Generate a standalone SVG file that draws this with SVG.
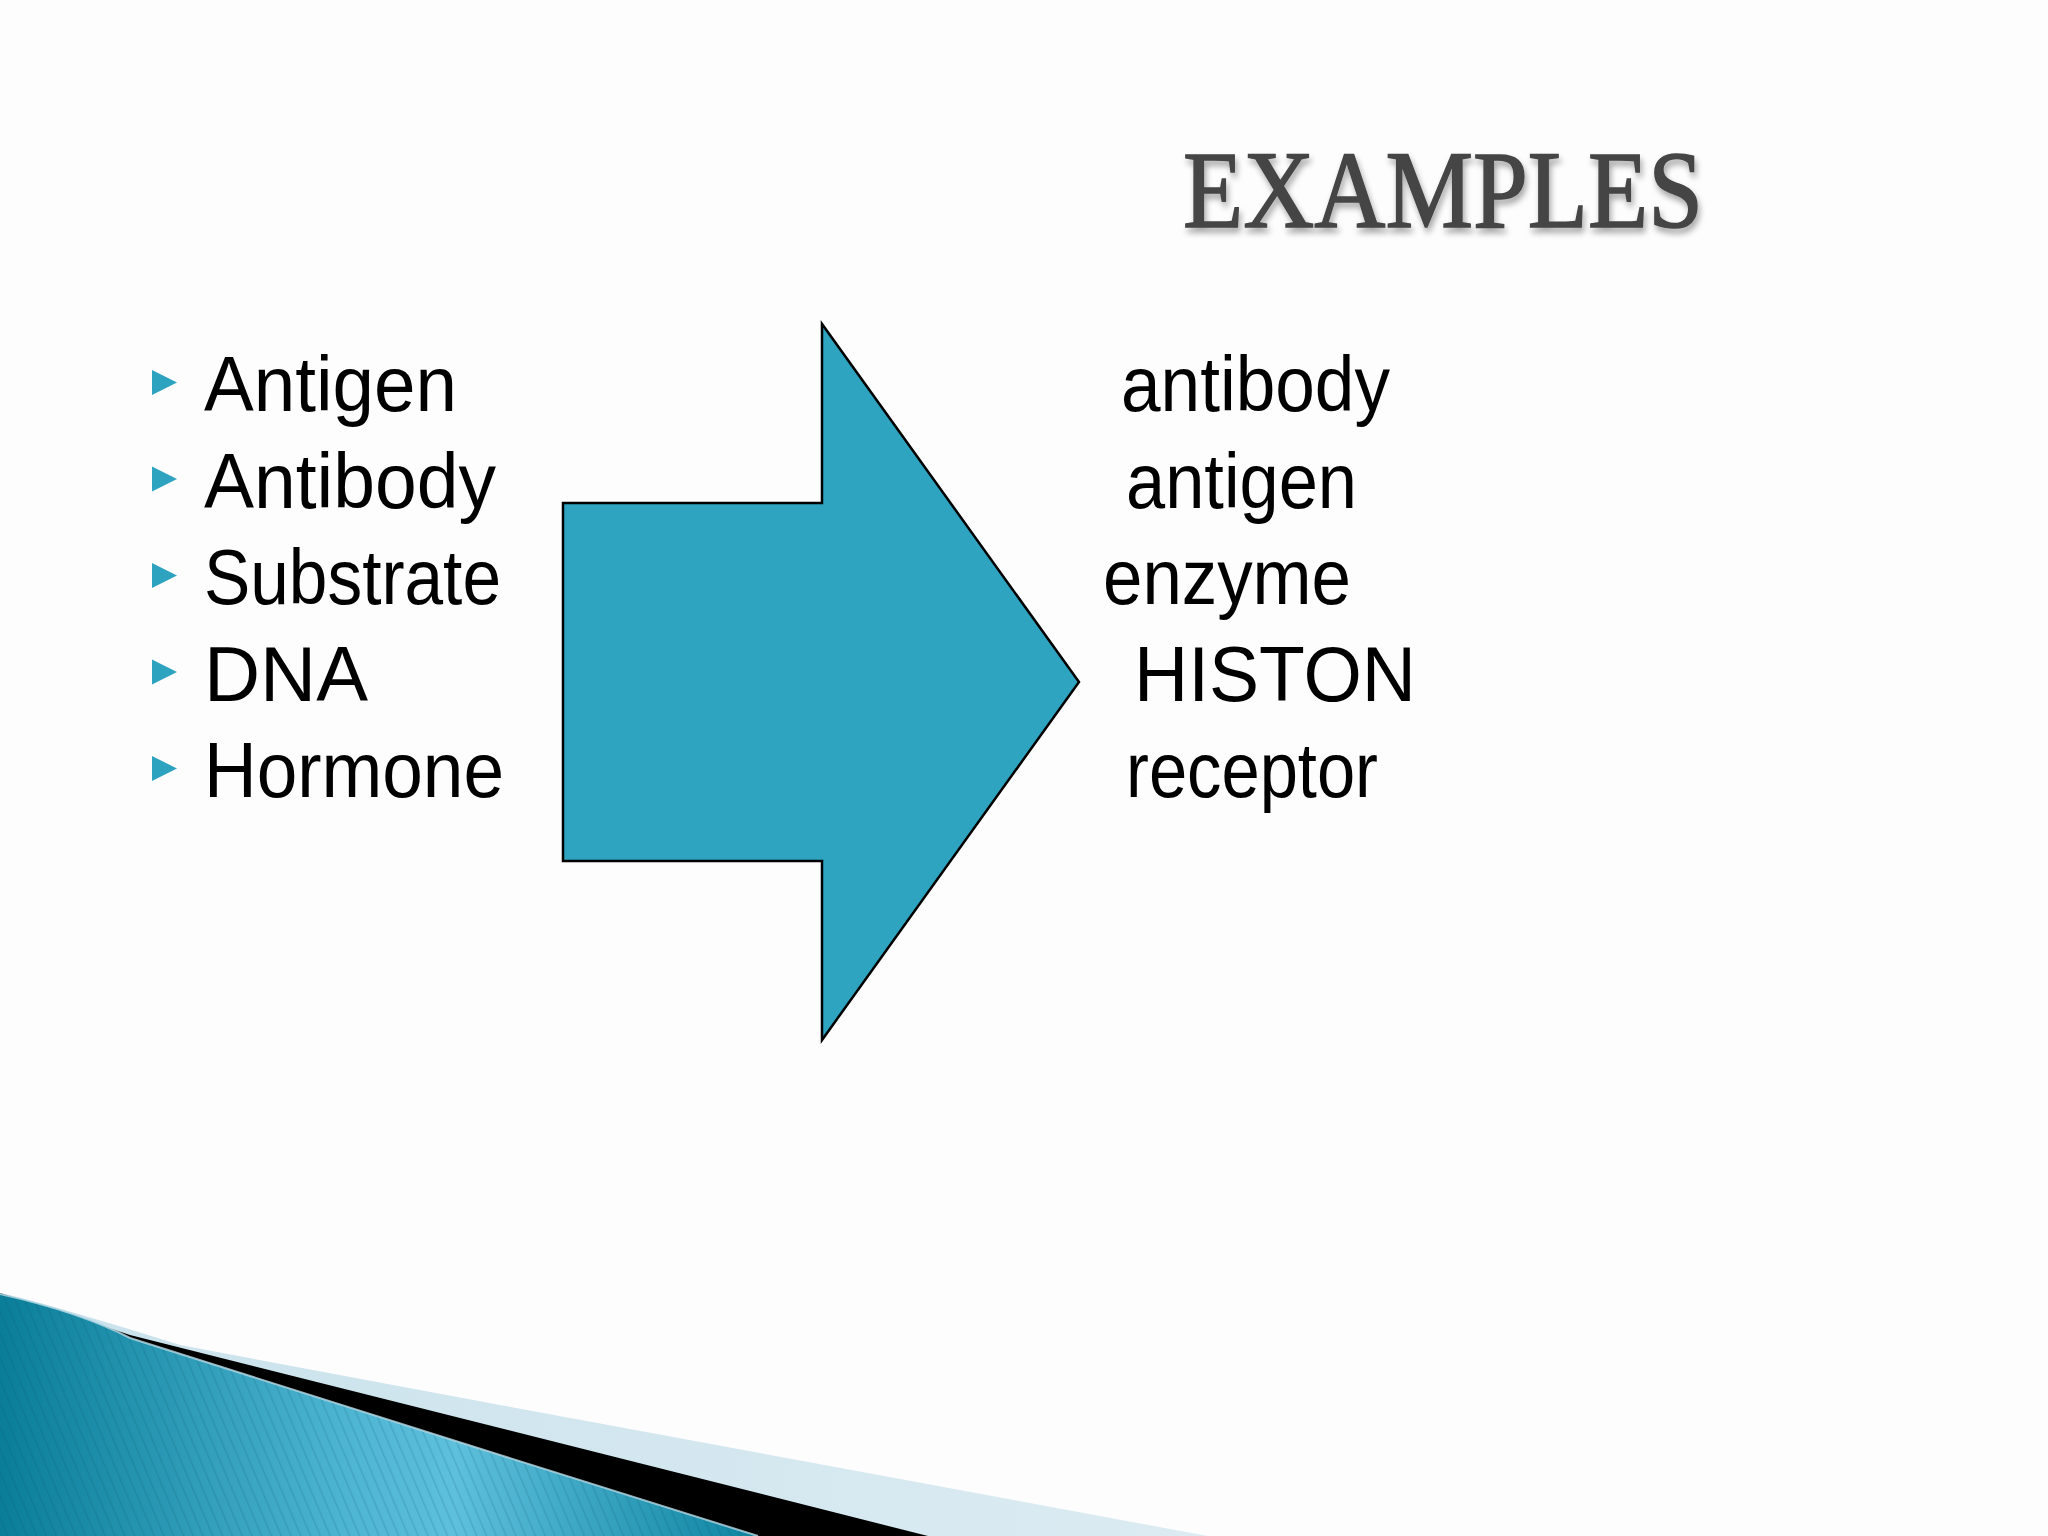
<svg xmlns="http://www.w3.org/2000/svg" width="2048" height="1536" viewBox="0 0 2048 1536">
  <style>
    .item { font-family: "Liberation Sans", Arial, sans-serif; font-size: 78px; fill: #000000; }
    .title { font-family: "Liberation Serif", "Times New Roman", serif; font-size: 110px; fill: #454545; stroke: #454545; stroke-width: 1.6px; }
    .bullet { fill: #2ea3bf; }
  </style>
  <defs>
    <filter id="shadow" x="-10%" y="-20%" width="120%" height="150%">
      <feGaussianBlur in="SourceAlpha" stdDeviation="3"/>
      <feOffset dx="2" dy="5" result="b"/>
      <feComponentTransfer><feFuncA type="linear" slope="0.35"/></feComponentTransfer>
      <feMerge><feMergeNode/><feMergeNode in="SourceGraphic"/></feMerge>
    </filter>
    <linearGradient id="teal" x1="0" y1="0" x2="1" y2="0" gradientUnits="objectBoundingBox">
      <stop offset="0" stop-color="#0a7e99"/>
      <stop offset="0.45" stop-color="#4cb4d1"/>
      <stop offset="0.6" stop-color="#5ec0dc"/>
      <stop offset="1" stop-color="#0d84a1"/>
    </linearGradient>
    <linearGradient id="lightband" x1="0" y1="0" x2="1" y2="0">
      <stop offset="0" stop-color="#c9e2ec"/>
      <stop offset="1" stop-color="#dcebf2"/>
    </linearGradient>
    <pattern id="stripes" width="9" height="40" patternUnits="userSpaceOnUse" patternTransform="rotate(-23)">
      <rect x="0" y="0" width="1.5" height="40" fill="#06566b" opacity="0.18"/>
    </pattern>
  </defs>

  <rect x="0" y="0" width="2048" height="1536" fill="#fdfdfd"/>

  <g id="title">
    <text class="title" x="1183" y="227" textLength="520" lengthAdjust="spacingAndGlyphs" filter="url(#shadow)">EXAMPLES</text>
  </g>

  <g id="left-list">
    <g id="item-antigen">
      <polygon class="bullet" points="152,370 177,382.5 152,395"/>
      <text class="item" x="204" y="411" textLength="253" lengthAdjust="spacingAndGlyphs">Antigen</text>
    </g>
    <g id="item-antibody">
      <polygon class="bullet" points="152,466.5 177,479 152,491.5"/>
      <text class="item" x="204" y="507.5" textLength="292" lengthAdjust="spacingAndGlyphs">Antibody</text>
    </g>
    <g id="item-substrate">
      <polygon class="bullet" points="152,563 177,575.5 152,588"/>
      <text class="item" x="204" y="604" textLength="297" lengthAdjust="spacingAndGlyphs">Substrate</text>
    </g>
    <g id="item-dna">
      <polygon class="bullet" points="152,659.5 177,672 152,684.5"/>
      <text class="item" x="204" y="700.5" textLength="164" lengthAdjust="spacingAndGlyphs">DNA</text>
    </g>
    <g id="item-hormone">
      <polygon class="bullet" points="152,756 177,768.5 152,781"/>
      <text class="item" x="204" y="797" textLength="300" lengthAdjust="spacingAndGlyphs">Hormone</text>
    </g>
  </g>

  <g id="connectors">
    <g id="big-arrow">
      <polygon points="563,503 822,503 822,324 1079,682 822,1040 822,861 563,861" fill="#2ea4c0" stroke="#000000" stroke-width="2.5" stroke-linejoin="miter"/>
    </g>
  </g>

  <g id="right-list">
    <text id="r-antibody" class="item" x="1121" y="411" textLength="269" lengthAdjust="spacingAndGlyphs">antibody</text>
    <text id="r-antigen" class="item" x="1126" y="507.5" textLength="231" lengthAdjust="spacingAndGlyphs">antigen</text>
    <text id="r-enzyme" class="item" x="1103" y="604" textLength="248" lengthAdjust="spacingAndGlyphs">enzyme</text>
    <text id="r-histon" class="item" x="1134" y="700.5" textLength="282" lengthAdjust="spacingAndGlyphs">HISTON</text>
    <text id="r-receptor" class="item" x="1126" y="797" textLength="252" lengthAdjust="spacingAndGlyphs">receptor</text>
  </g>

  <g id="corner-decoration">
    <path d="M0,1293 Q70,1310 180,1345 L500,1405 L1208,1536 L0,1536 Z" fill="url(#lightband)"/>
    <path d="M0,1293 Q80,1318 130,1335 L500,1428 L928,1536 L0,1536 Z" fill="#000000"/>
    <path d="M0,1294 Q80,1312 130,1338 L500,1455 L758,1536 L0,1536 Z" fill="url(#teal)"/>
    <path d="M0,1294 Q80,1312 130,1338 L500,1455 L758,1536 L0,1536 Z" fill="url(#stripes)"/>
    <path d="M0,1294 Q80,1312 130,1338 L500,1455 L758,1536" fill="none" stroke="#b9dbe6" stroke-width="2" opacity="0.8"/>
  </g>
</svg>
